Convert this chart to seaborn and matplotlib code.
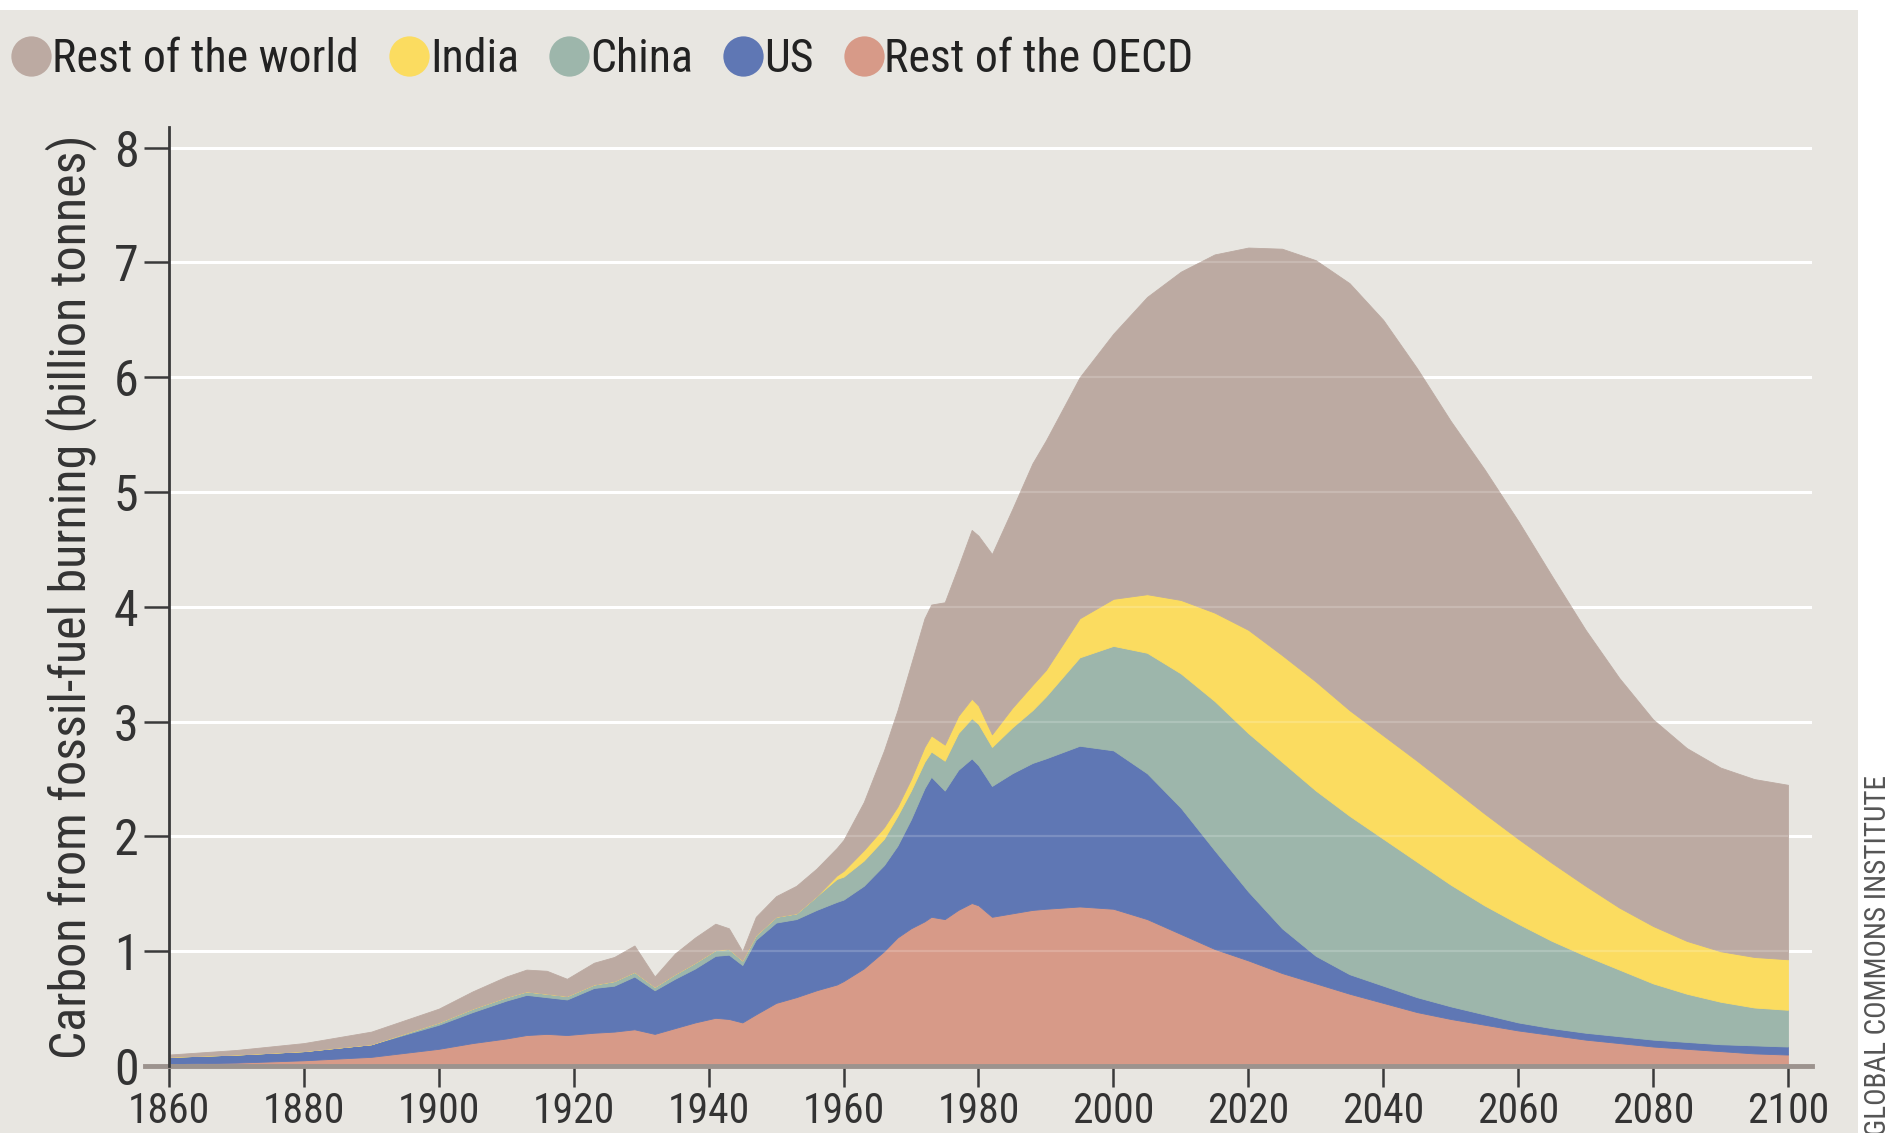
import matplotlib
matplotlib.use("Agg")
import matplotlib.pyplot as plt
import matplotlib.font_manager as fm
import seaborn as sns
from matplotlib.lines import Line2D
from matplotlib.patches import Rectangle

# ---- data (billion tonnes of carbon per year) ----
years = [1860, 1870, 1880, 1890, 1900, 1905, 1910, 1913, 1916, 1919, 1923, 1926,
         1929, 1932, 1935, 1938, 1941, 1943, 1945, 1947, 1950, 1953, 1956, 1959,
         1960, 1963, 1966, 1968, 1970, 1972, 1973, 1975, 1977, 1979, 1980, 1982,
         1985, 1988, 1990, 1995, 2000, 2005, 2010, 2015, 2020, 2025, 2030, 2035,
         2040, 2045, 2050, 2055, 2060, 2065, 2070, 2075, 2080, 2085, 2090, 2095, 2100]

rest_oecd = [0.02, 0.03, 0.05, 0.08, 0.15, 0.20, 0.24, 0.27, 0.28, 0.27, 0.29, 0.30,
             0.32, 0.28, 0.33, 0.38, 0.42, 0.41, 0.38, 0.45, 0.55, 0.60, 0.66, 0.71,
             0.74, 0.85, 1.00, 1.12, 1.20, 1.26, 1.30, 1.28, 1.36, 1.42, 1.40, 1.30,
             1.33, 1.36, 1.37, 1.39, 1.37, 1.28, 1.15, 1.02, 0.92, 0.81, 0.72, 0.63,
             0.55, 0.47, 0.41, 0.36, 0.31, 0.27, 0.23, 0.20, 0.17, 0.15, 0.13, 0.11, 0.10]

us = [0.06, 0.07, 0.08, 0.11, 0.21, 0.27, 0.33, 0.35, 0.32, 0.31, 0.39, 0.40,
      0.46, 0.38, 0.43, 0.47, 0.54, 0.56, 0.50, 0.65, 0.70, 0.68, 0.70, 0.72,
      0.71, 0.72, 0.75, 0.80, 0.95, 1.16, 1.22, 1.12, 1.22, 1.26, 1.22, 1.14,
      1.22, 1.28, 1.31, 1.40, 1.38, 1.27, 1.10, 0.86, 0.60, 0.39, 0.24, 0.17,
      0.15, 0.13, 0.11, 0.09, 0.07, 0.06, 0.06, 0.06, 0.06, 0.06, 0.06, 0.07, 0.07]

china = [0.00, 0.00, 0.00, 0.00, 0.02, 0.03, 0.03, 0.03, 0.03, 0.03, 0.03, 0.04,
         0.04, 0.03, 0.04, 0.05, 0.05, 0.05, 0.04, 0.04, 0.05, 0.05, 0.12, 0.20,
         0.20, 0.22, 0.23, 0.26, 0.25, 0.23, 0.22, 0.26, 0.32, 0.35, 0.36, 0.34,
         0.40, 0.46, 0.54, 0.77, 0.91, 1.05, 1.17, 1.30, 1.38, 1.45, 1.44, 1.38,
         1.28, 1.18, 1.06, 0.95, 0.86, 0.76, 0.67, 0.58, 0.49, 0.42, 0.37, 0.33, 0.32]

india = [0.00, 0.00, 0.00, 0.00, 0.00, 0.00, 0.00, 0.00, 0.00, 0.00, 0.00, 0.00,
         0.00, 0.00, 0.00, 0.00, 0.00, 0.00, 0.00, 0.00, 0.00, 0.00, 0.00, 0.03,
         0.05, 0.09, 0.10, 0.08, 0.10, 0.13, 0.14, 0.14, 0.15, 0.17, 0.16, 0.11,
         0.17, 0.22, 0.23, 0.34, 0.41, 0.51, 0.64, 0.77, 0.90, 0.93, 0.95, 0.92,
         0.90, 0.88, 0.85, 0.80, 0.74, 0.68, 0.61, 0.54, 0.50, 0.46, 0.44, 0.44, 0.44]

rest_world = [0.02, 0.04, 0.07, 0.11, 0.12, 0.15, 0.18, 0.19, 0.20, 0.15, 0.19, 0.21,
              0.23, 0.09, 0.18, 0.22, 0.23, 0.18, 0.08, 0.16, 0.18, 0.24, 0.24, 0.24,
              0.27, 0.42, 0.67, 0.84, 1.00, 1.12, 1.14, 1.24, 1.30, 1.47, 1.48, 1.57,
              1.73, 1.93, 2.00, 2.10, 2.31, 2.59, 2.86, 3.12, 3.33, 3.54, 3.67, 3.72,
              3.62, 3.42, 3.19, 3.00, 2.77, 2.50, 2.23, 2.00, 1.80, 1.68, 1.60, 1.55, 1.52]

series_labels = ["Rest of the OECD", "US", "China", "India", "Rest of the world"]
legend_order = ["Rest of the world", "India", "China", "US", "Rest of the OECD"]
year_ticks = list(range(1860, 2101, 20))
value_ticks = list(range(0, 9))
y_label = "Carbon from fossil-fuel burning (billion tonnes)"
credit = "GLOBAL COMMONS INSTITUTE"

# ---- style ----
sns.set_theme(style="white")


def pick_condensed():
    entries = fm.fontManager.ttflist
    prefs = ["Liberation Sans Narrow", "Roboto Condensed", "Open Sans Condensed",
             "Noto Sans Condensed", "DejaVu Sans Condensed"]
    names = {f.name for f in entries}
    for p in prefs:
        if p in names:
            return p, "normal"
    for f in entries:
        st = f.stretch
        cond = (isinstance(st, str) and "condensed" in st) or (isinstance(st, int) and st < 500)
        if cond or "Narrow" in f.name or "Condensed" in f.name:
            return f.name, st
    return None, None


fam, stretch = pick_condensed()
if fam is None:
    plt.rcParams["font.family"] = ["Roboto", "DejaVu Sans"]
    SCALE = 0.9
else:
    plt.rcParams["font.family"] = [fam, "DejaVu Sans"]
    plt.rcParams["font.stretch"] = stretch if stretch is not None else "normal"
    SCALE = 1.0

palette = sns.color_palette(["#d79a88", "#5f77b4", "#9db6ab", "#fbdc60", "#bcaaa2"])
colors = dict(zip(series_labels, palette))
BG = "#e8e6e1"

fig = plt.figure(figsize=(18.9, 11.33), dpi=100)
fig.patch.set_facecolor("white")
fig.add_artist(Rectangle((0, 0), 1858 / 1890, 1 - 10 / 1133, transform=fig.transFigure,
                         facecolor=BG, edgecolor="none", zorder=-10))

ax = fig.add_axes([0.0769, 0.0591, 0.9585 - 0.0769, 0.8288])
ax.set_facecolor("none")

x0, x1 = 1856.5, 2103.5
ax.set_xlim(x0, x1)
ax.set_ylim(0, 8.18)

# gridlines behind
ax.hlines(value_ticks[1:], 1860, x1, colors="white", linewidth=2.2, zorder=0)

ax.stackplot(years, rest_oecd, us, china, india, rest_world,
             colors=[colors[s] for s in series_labels],
             edgecolor="face", linewidth=0.6, zorder=2)

# faint gridlines showing through
ax.hlines(value_ticks[1:], 1860, 2100, colors="white", linewidth=1.6, alpha=0.18, zorder=3)

# spines
for s in ["top", "right"]:
    ax.spines[s].set_visible(False)
ax.spines["left"].set_position(("data", 1860))
ax.spines["left"].set_color("#3a3a3a")
ax.spines["left"].set_linewidth(2.0)
ax.spines["left"].set_zorder(5)
ax.spines["bottom"].set_color("#9c938e")
ax.spines["bottom"].set_linewidth(3.5)
ax.spines["bottom"].set_zorder(4)

ax.set_xticks(year_ticks)
ax.set_xticklabels([str(y) for y in year_ticks])
ax.set_yticks(value_ticks)
ax.set_yticklabels([str(v) for v in value_ticks])
ax.tick_params(axis="y", direction="out", length=18, width=1.8, color="#3a3a3a",
               labelsize=36 * SCALE, labelcolor="#333333", pad=4, left=True)
ax.tick_params(axis="x", direction="out", length=15, width=1.8, color="#3a3a3a",
               labelsize=30 * SCALE, labelcolor="#333333", pad=3, bottom=True)
ax.grid(False)

ax.set_ylabel(y_label, fontsize=36 * SCALE, color="#333333", labelpad=12)

# legend
handles = [Line2D([0], [0], marker="o", linestyle="none", markersize=29,
                  markerfacecolor=colors[l], markeredgecolor="none") for l in legend_order]
fig.legend(handles, legend_order, loc="center left", bbox_to_anchor=(0.0045, 0.948),
           ncol=5, frameon=False, fontsize=33 * SCALE, handletextpad=-0.05,
           columnspacing=0.6, handlelength=1.0, borderpad=0.0, borderaxespad=0.0,
           labelcolor="#222222")

fig.text(0.9935, -0.003, credit, rotation=90, ha="center", va="bottom",
         fontsize=21 * SCALE, color="#555555")

fig.savefig("out.png", dpi=100, facecolor=fig.get_facecolor())
